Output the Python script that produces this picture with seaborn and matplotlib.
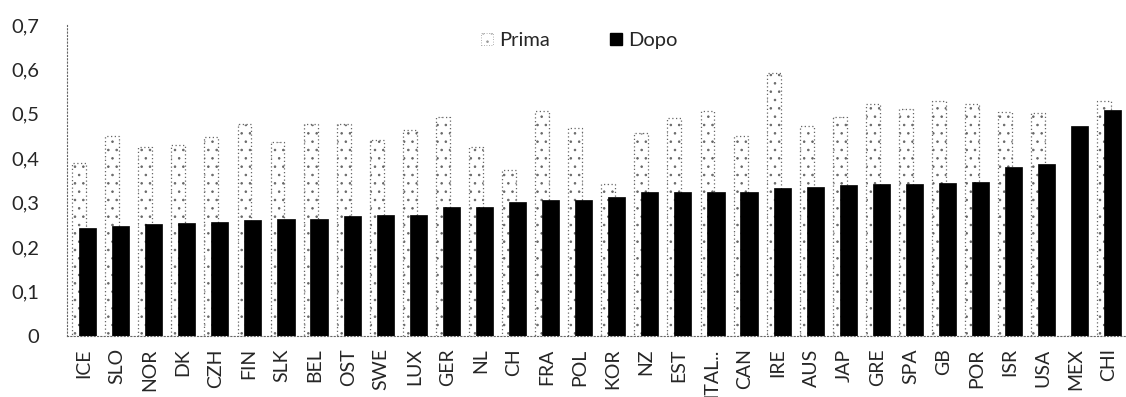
import numpy as np
import pandas as pd
import matplotlib
matplotlib.use("Agg")
import matplotlib.pyplot as plt
import seaborn as sns
from matplotlib.ticker import FuncFormatter, FixedLocator
from matplotlib.patches import Patch

paesi = ["ICE", "SLO", "NOR", "DK", "CZH", "FIN", "SLK", "BEL", "OST", "SWE",
         "LUX", "GER", "NL", "CH", "FRA", "POL", "KOR", "NZ", "EST", "ITAL..",
         "CAN", "IRE", "AUS", "JAP", "GRE", "SPA", "GB", "POR", "ISR", "USA",
         "MEX", "CHI"]
prima = [0.39, 0.45, 0.425, 0.43, 0.447, 0.478, 0.436, 0.478, 0.478, 0.44,
         0.463, 0.492, 0.425, 0.373, 0.506, 0.467, 0.343, 0.456, 0.49, 0.506,
         0.449, 0.592, 0.472, 0.492, 0.523, 0.51, 0.528, 0.523, 0.504, 0.501,
         0.0, 0.528]
dopo = [0.243, 0.247, 0.251, 0.254, 0.256, 0.262, 0.263, 0.263, 0.27, 0.272,
        0.272, 0.29, 0.29, 0.302, 0.307, 0.307, 0.313, 0.323, 0.323, 0.323,
        0.324, 0.334, 0.336, 0.339, 0.343, 0.343, 0.344, 0.347, 0.381, 0.387,
        0.472, 0.508]

df = pd.DataFrame({"paese": paesi * 2,
                   "valore": prima + dopo,
                   "serie": ["Prima"] * len(paesi) + ["Dopo"] * len(paesi)})

sns.set_style("white")
plt.rcParams["font.family"] = ["Lato", "DejaVu Sans"]
plt.rcParams["hatch.color"] = "#cccccc"
plt.rcParams["hatch.linewidth"] = 0.6

fig = plt.figure(figsize=(11.26, 3.97), dpi=100)
ax = fig.add_axes([0.0595, 0.154, 0.94, 0.783])

sns.barplot(data=df, x="paese", y="valore", hue="serie", order=paesi,
            hue_order=["Prima", "Dopo"], palette=["white", "black"],
            dodge=True, width=0.5, legend=False, ax=ax)

# widen the dodged bars so they overlap like the excel original
for cont, w, shift in zip(ax.containers, [0.42, 0.52], [-0.01, -0.005]):
    for p in cont.patches:
        c = p.get_x() + p.get_width() / 2 + shift
        p.set_width(w)
        p.set_x(c - w / 2)
for p in ax.containers[0].patches:
    p.set_edgecolor("#666666")
    p.set_linestyle((0, (1, 2)))
    p.set_linewidth(0.9)
    p.set_hatch("..")
for p in ax.containers[1].patches:
    p.set_edgecolor("black")
    p.set_linewidth(0.5)

ax.set_ylim(0, 0.7)
ax.set_xlim(-0.5, len(paesi) - 0.5)
ax.yaxis.set_major_locator(FixedLocator(np.arange(0, 0.71, 0.1)))
ax.yaxis.set_major_formatter(FuncFormatter(
    lambda v, pos: "0" if abs(v) < 1e-9 else f"{v:.1f}".replace(".", ",")))
ax.tick_params(axis="y", length=0, pad=20, labelsize=14.5)
ax.tick_params(axis="x", which="major", length=0, pad=9, labelsize=14,
               labelrotation=90)
ax.xaxis.set_minor_locator(FixedLocator(np.arange(-0.5, len(paesi), 1.0)))
ax.tick_params(axis="x", which="minor", length=5, width=0.8, color="#555555",
               direction="out")
ax.set_xlabel("")
ax.set_ylabel("")

for s in ["top", "right"]:
    ax.spines[s].set_visible(False)
for s in ["left", "bottom"]:
    ax.spines[s].set_linestyle((0, (1, 2)))
    ax.spines[s].set_color("#666666")
    ax.spines[s].set_linewidth(0.8)

handles = [Patch(facecolor="white", edgecolor="#999999", hatch="..",
                 linestyle=(0, (1, 2)), linewidth=0.6, label="Prima"),
           Patch(facecolor="black", edgecolor="black", label="Dopo")]
ax.legend(handles=handles, loc="center", bbox_to_anchor=(0.484, 0.95),
          ncol=2, frameon=False, fontsize=14.5, handlelength=0.6,
          handleheight=0.6, handletextpad=0.3, columnspacing=3.0)

fig.savefig("out.png", dpi=100)
